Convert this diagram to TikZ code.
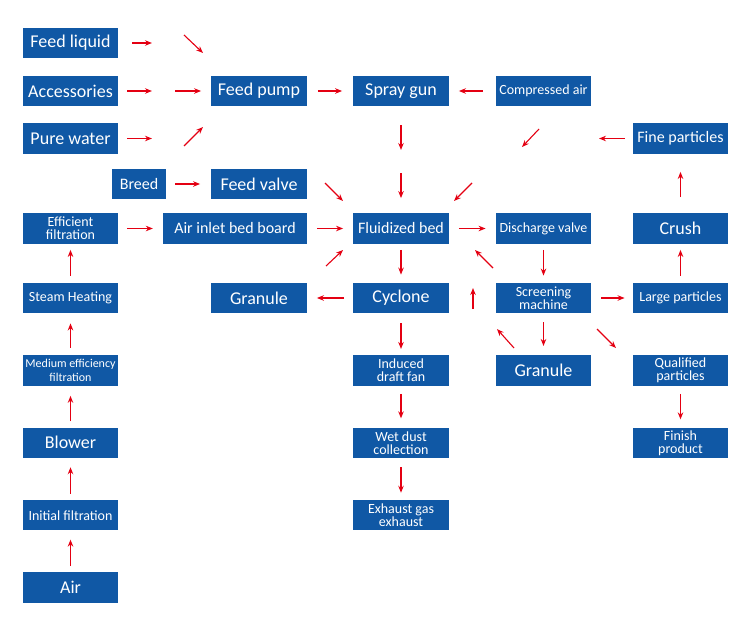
\documentclass[tikz,border=0pt]{standalone}
\usepackage{fontspec}
\setmainfont{Carlito}
\usetikzlibrary{arrows.meta}

\begin{document}
\begin{tikzpicture}[x=1pt, y=-1pt, ->, >={Stealth[length=7pt,width=5.5pt]}, node distance=72.4pt]
%====colori===============================================================
	\definecolor{boxblue}{RGB}{16,88,165}
	\definecolor{arrowred}{RGB}{228,0,18}
%====stili blocchi e frecce===============================================================
	\tikzstyle{box}=[rectangle, fill=boxblue, text=white, minimum width=95.5pt, minimum height=30.5pt, inner sep=0pt, align=center]
	\tikzstyle{big}=[font=\fontsize{18}{17}\selectfont]
	\tikzstyle{mid}=[font=\fontsize{16}{15}\selectfont]
	\tikzstyle{small}=[font=\fontsize{14}{13}\selectfont]
	\tikzstyle{tiny}=[font=\fontsize{12}{14}\selectfont]
	\tikzset{every edge/.style={draw=arrowred, line width=1.1pt},
		gap/.style 2 args={shorten <=#1, shorten >=#2}}
	\useasboundingbox (0,0) rectangle (750,629);
%====blocchi e posizione===============================================================
	\node[box, big]		(fl)		at (70.5,43)						{Feed liquid};
	\node[box, big]		(acc)	[below of=fl, node distance=48pt]		{Accessories};
	\node[box, big]		(pw)		[below of=acc, node distance=47.5pt]	{Pure water};
	\node[box, small]	(ef)		[below of=pw, node distance=90pt]		{Efficient\\filtration};
	\node[box, small]	(sh)		[below of=ef, node distance=69.5pt]	{Steam Heating};
	\node[box, tiny]		(mef)	[below of=sh]						{Medium efficiency\\filtration};
	\node[box, big]		(bl)		[below of=mef]						{Blower};
	\node[box, small]	(inf)	[below of=bl]						{Initial filtration};
	\node[box, big]		(air)	[below of=inf]						{Air};
	\node[box, big]		(fp)		[right of=acc, node distance=188.5pt]	{Feed pump};
	\node[box, big]		(fv)		[below of=fp, node distance=93pt]		{Feed valve};
	\node[box, mid, minimum width=54pt]	(br)	[left of=fv, node distance=120pt]	{Breed};
	\node[box, mid, minimum width=144pt]	(aib)	[right of=ef, node distance=164.5pt]	{Air inlet bed board};
	\node[box, big]		(gr1)	[right of=sh, node distance=188.5pt]	{Granule};
	\node[box, big]		(sg)		[right of=fp, node distance=142pt]		{Spray gun};
	\node[box, mid]		(fb)		[below of=sg, node distance=137.5pt]	{Fluidized bed};
	\node[box, big]		(cy)		[below of=fb, node distance=69.5pt]	{Cyclone};
	\node[box, small]	(idf)	[below of=cy]						{Induced\\draft fan};
	\node[box, small]	(wdc)	[below of=idf]						{Wet dust\\collection};
	\node[box, small]	(egx)	[below of=wdc]						{Exhaust gas\\exhaust};
	\node[box, small]	(ca)		[right of=sg, node distance=142.5pt]	{Compressed air};
	\node[box, small]	(dv)		[right of=fb, node distance=142.5pt]	{Discharge valve};
	\node[box, small]	(sm)		[right of=cy, node distance=142.5pt]	{Screening\\machine};
	\node[box, big]		(gr2)	[below of=sm]						{Granule};
	\node[box, big]		(cr)		[right of=dv, node distance=137pt]		{Crush};
	\node[box, mid]		(fpar)	[above of=cr, node distance=90pt]		{Fine particles};
	\node[box, small]	(lp)		[right of=sm, node distance=137pt]		{Large particles};
	\node[box, small]	(qp)		[below of=lp]						{Qualified\\particles};
	\node[box, small]	(fin)	[below of=qp]						{Finish\\product};
%====punti liberi delle frecce===============================================================
	\foreach \nome/\px/\py in {c1/152/43, c2/184/35, c3/203/53, c4/152/91, c5/175/91, c6/152/138.5,
		c7/184/146, c8/203/127, c9/325/183, c10/343/201, c11/401/150, c12/401/173,
		c13/472/183, c14/454/201, c15/539/129, c16/522/147, c17/599/138.5, c18/326/266,
		c19/343/250, c20/493/268, c21/475/250, c22/473/309, c23/473/288, c24/514/348,
		c25/497/329, c26/597/329, c27/616/348}
		\coordinate (\nome) at (\px,\py);
%====frecce===============================================================
		%from	stile				to
	\path	(fl)		edge[gap={14pt}{0pt}]		(c1)
			(c2)		edge					(c3)
			(acc)	edge[gap={9pt}{0pt}]		(c4)
			(c5)		edge[gap={0pt}{10pt}]	(fp)
			(pw)		edge[gap={9pt}{0pt}]		(c6)
			(c7)		edge					(c8)
			(br)		edge[gap={9pt}{11pt}]	(fv)
			(fp)		edge[gap={11pt}{11pt}]	(sg)
			(ca)		edge[gap={13pt}{10pt}]	(sg)
			(c9)		edge					(c10)
			(sg)		edge[gap={19pt}{0pt}]	(c11)
			(c12)	edge[gap={0pt}{15pt}]	(fb)
			(c13)	edge					(c14)
			(c15)	edge					(c16)
			(fpar)	edge[gap={8pt}{0pt}]		(c17)
			(cr)		edge[gap={16pt}{18pt}]	(fpar)
			(ef)		edge[gap={9pt}{10pt}]	(aib)
			(aib)	edge[gap={10pt}{10pt}]	(fb)
			(c18)	edge					(c19)
			(fb)		edge[gap={6pt}{8pt}]		(cy)
			(cy)		edge[gap={9pt}{10pt}]	(gr1)
			(fb)		edge[gap={10pt}{10pt}]	(dv)
			(c20)	edge					(c21)
			(c22)	edge					(c23)
			(dv)		edge[gap={6pt}{7pt}]		(sm)
			(sm)		edge[gap={10pt}{8pt}]	(lp)
			(sm)		edge[gap={9pt}{9pt}]		(gr2)
			(c24)	edge					(c25)
			(c26)	edge					(c27)
			(lp)		edge[gap={7pt}{6pt}]		(cr)
			(qp)		edge[gap={8pt}{8pt}]		(fin)
			(cy)		edge[gap={10pt}{6pt}]	(idf)
			(idf)	edge[gap={8pt}{9pt}]		(wdc)
			(wdc)	edge[gap={9pt}{7pt}]		(egx)
			(sh)		edge[gap={7pt}{6pt}]		(ef)
			(mef)	edge[gap={7pt}{10pt}]	(sh)
			(bl)		edge[gap={6pt}{10pt}]	(mef)
			(inf)	edge[gap={6pt}{9pt}]		(bl)
			(air)	edge[gap={6pt}{9pt}]		(inf);
\end{tikzpicture}
\end{document}
